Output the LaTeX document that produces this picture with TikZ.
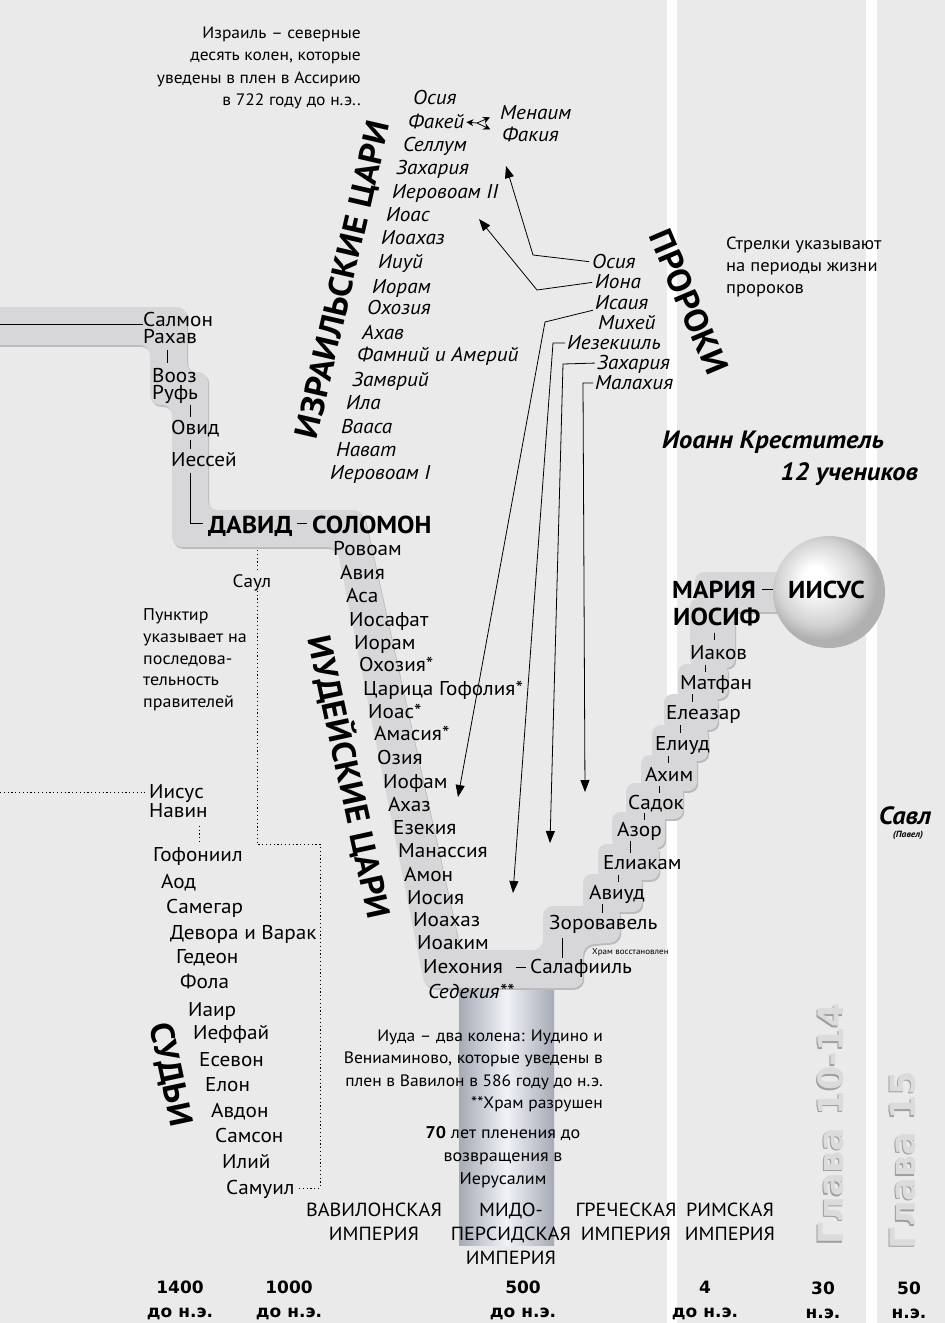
\documentclass[tikz,border=0pt]{standalone}
\usepackage{fontspec}
\setmainfont{PT Sans}[FakeStretch=1.06]
\newfontfamily\dvs{DejaVu Sans}
\usetikzlibrary{calc,arrows.meta}
\definecolor{bgc}{RGB}{234,234,234}
\definecolor{bandc}{RGB}{215,215,217}
\definecolor{shadc}{RGB}{186,186,190}
\definecolor{coledge}{RGB}{165,170,181}
\definecolor{colmid}{RGB}{240,242,246}
\pgfdeclareradialshading{jball}{\pgfpoint{-7bp}{7bp}}{color(0bp)=(white); color(5bp)=(white); color(19bp)=(gray!35); color(25bp)=(gray!62); color(50bp)=(gray!62)}
\newcommand\gtk[4]{\draw[gl] ($(#2.north west)!.5!(#2.north west |- #1.south)+(#3,-#4/2)$) -- ++(0,#4);}
\newcommand\bandpaths[1]{%
 \fill[#1,rounded corners=10pt] (-20,307) -- (187,307) -- (187,372) -- (208,372) -- (208,510) -- (363,510) -- (455,925) -- (460,950) -- (543,950) -- (543,906) -- (620,906) -- (620,942) -- (583,945) -- (583,988) -- (425,988) -- (337,547) -- (172,547) -- (172,405) -- (150,405) -- (150,345) -- (-20,345) -- cycle;
 \fill[#1,rounded corners=9pt] (695,572) rectangle (795,612);
 \fill[#1,rounded corners=9pt] (690,598) rectangle (735,668);
 \fill[#1,rounded corners=9pt] (678,664) rectangle (728,699);
 \fill[#1,rounded corners=9pt] (664,694) rectangle (718,730);
 \fill[#1,rounded corners=9pt] (652,725) rectangle (708,761);
 \fill[#1,rounded corners=9pt] (641,755) rectangle (697,791);
 \fill[#1,rounded corners=9pt] (626,783) rectangle (683,819);
 \fill[#1,rounded corners=9pt] (612,812) rectangle (665,848);
 \fill[#1,rounded corners=9pt] (598,844) rectangle (659,880);
 \fill[#1,rounded corners=9pt] (583,874) rectangle (642,912);
}
\begin{document}
\begin{tikzpicture}[x=1pt,y=-1pt,
  nm/.style={anchor=west,inner sep=0pt,text height=13pt,text depth=0pt,font=\fontsize{20}{22}\selectfont},
  itn/.style={nm,font=\fontsize{20}{22}\selectfont\itshape},
  hd/.style={anchor=west,inner sep=0pt,text height=17pt,text depth=0pt,font=\fontsize{24.5}{27}\selectfont\bfseries},
  hdr/.style={inner sep=0pt,font=\fontsize{33}{33}\selectfont\bfseries},
  note/.style={inner sep=0pt,font=\fontsize{16.5}{22.5}\selectfont},
  emp/.style={inner sep=0pt,align=center,font=\fontsize{19}{24}\selectfont},
  yr/.style={inner sep=0pt,align=center,font=\dvs\bfseries\fontsize{17}{24}\selectfont},
  gl/.style={line width=0.8pt},
  arr/.style={-{Triangle[length=12pt,width=9pt]}},
  smarr/.style={-{Stealth[length=7pt,width=7pt]}},
  dotln/.style={line width=0.9pt,dash pattern=on 1.2pt off 2.6pt},
  glava/.style={rotate=90,inner sep=0pt,font=\dvs\bfseries\fontsize{35}{35}\selectfont}
]
\useasboundingbox (0,0) rectangle (945,1323);
\fill[bgc] (0,0) rectangle (945,1323);
\fill[white] (667,0) rectangle (677,1323);
\fill[white] (866,0) rectangle (877,1323);
% column
\shade[left color=coledge,right color=coledge,middle color=colmid] (459,950) rectangle (554,1245);
% bands
\begin{scope}[shift={(1.2,1.8)}]\bandpaths{shadc}\end{scope}
\bandpaths{bandc}
% ball
\node[circle,minimum size=112pt,inner sep=0pt,shading=jball] (ball) at (829,592) {};

% notes
\node[note,anchor=east,align=right] (nisr) at (361,68) {Израиль – северные\\десять колен, которые\\уведены в плен в Ассирию\\в 722 году до н.э..};
\node[note,anchor=west,align=left,font=\fontsize{17.5}{22}\selectfont] (narr) at (726,267) {Стрелки указывают\\на периоды жизни\\пророков};
\node[note,anchor=west,align=left,font=\fontsize{17}{21.7}\selectfont] (npun) at (143,660) {Пунктир\\указывает на\\последова-\\тельность\\правителей};
\node[note,anchor=east,align=right] (njud) at (603,1071) {Иуда – два колена: Иудино и\\Вениаминово, которые уведены в\\плен в Вавилон в 586 году до н.э.\\**Храм разрушен};
\node[note,align=center,font=\fontsize{17}{23}\selectfont] (n70) at (503,1157) {\textbf{70} лет пленения до\\возвращения в\\Иерусалим};
\node[inner sep=0pt,anchor=west,font=\fontsize{8.5}{9}\selectfont] (hram) at (592,952) {Храм восстановлен};

% headings rotated
\node[hdr,rotate=77] (hisr) at (344,280) {ИЗРАИЛЬСКИЕ ЦАРИ};
\node[hdr,rotate=-67] (hpro) at (689,302) {ПРОРОКИ};
\node[hdr,rotate=-77.7] (hjud) at (350,777) {ИУДЕЙСКИЕ ЦАРИ};
\node[hdr,rotate=-78] (hsud) at (170,1075) {СУДЬИ};

% Salmon line
\node[nm] (salmon) at (143,320) {Салмон};
\node[nm] (rahav) at (143,337) {Рахав};
\node[nm] (vooz) at (152,376) {Вооз};
\node[nm] (ruf) at (152,393) {Руфь};
\node[nm] (ovid) at (171,428) {Овид};
\node[nm] (iessei) at (171,460) {Иессей};
\node[hd] (david) at (208,525) {ДАВИД};
\node[hd] (solomon) at (312,525) {СОЛОМОН};

\coordinate (lft) at (0,324);
\draw[gl] (lft) -- (salmon.west |- lft);
\gtk{rahav}{vooz}{15}{13}
\gtk{ruf}{ovid}{19}{12}
\gtk{ovid}{iessei}{19}{9}
\draw[gl] ($(iessei.south west)+(19,6)$) |- ($(david.west)+(-5,-2)$);
\draw[gl] ($(solomon.west)+(-15,-2)$) -- ($(solomon.west)+(-5,-2)$);

% Judah kings
\node[nm] (rovoam) at (333,549) {Ровоам};
\node[nm] (avia) at (340,573) {Авия};
\node[nm] (asa) at (346,596) {Аса};
\node[nm] (iosafat) at (349,620) {Иосафат};
\node[nm] (ioramj) at (354,643) {Иорам};
\node[nm] (ohoziaj) at (359,665) {Охозия*};
\node[nm] (gofolia) at (363,689) {Царица Гофолия*};
\node[nm] (ioasj) at (368,712) {Иоас*};
\node[nm] (amasia) at (374,734) {Амасия*};
\node[nm] (ozia) at (377,758) {Озия};
\node[nm] (iofam) at (383,782) {Иофам};
\node[nm] (ahaz) at (388,805) {Ахаз};
\node[nm] (ezekia) at (393,828) {Езекия};
\node[nm] (manassia) at (398,851) {Манассия};
\node[nm] (amon) at (404,875) {Амон};
\node[nm] (iosia) at (407,898) {Иосия};
\node[nm] (ioahazj) at (413,920) {Иоахаз};
\node[nm] (ioakim) at (417,943) {Иоаким};
\node[nm] (iehonia) at (423,967) {Иехония};
\node[itn] (sedekia) at (428,992) {Седекия**};

% Israel kings
\node[itn] (osiai) at (413,98) {Осия};
\node[itn] (fakey) at (408,122) {Факей};
\node[itn] (menaim) at (500,113) {Менаим};
\node[itn] (fakia) at (502,135) {Факия};
\node[itn] (sellum) at (403,145) {Селлум};
\node[itn] (zahi) at (396,168) {Захария};
\node[itn] (ier2) at (392,192) {Иеровоам II};
\node[itn] (ioasi) at (386,215) {Иоас};
\node[itn] (ioahazi) at (381,238) {Иоахаз};
\node[itn] (iiui) at (378,262) {Ииуй};
\node[itn] (iorami) at (372,287) {Иорам};
\node[itn] (ohoziai) at (367,308) {Охозия};
\node[itn] (ahav) at (362,333) {Ахав};
\node[itn] (famni) at (357,355) {Фамний и Америй};
\node[itn] (zamvri) at (352,380) {Замврий};
\node[itn] (ila) at (346,403) {Ила};
\node[itn] (vaasa) at (341,427) {Вааса};
\node[itn] (navat) at (336,450) {Нават};
\node[itn] (ier1) at (330,473) {Иеровоам I};

\coordinate (fv) at (477,123);
\draw[gl,smarr,shorten >=2pt] (fv) -- (fakey.east);
\draw[gl,smarr,shorten >=11pt] (fv) -- (menaim.west);
\draw[gl,smarr,shorten >=13pt] (fv) -- (fakia.west);

% prophets
\node[itn] (posia) at (592,262) {Осия};
\node[itn] (piona) at (595,282) {Иона};
\node[itn] (pisaia) at (595,303) {Исаия};
\node[itn] (pmihei) at (598,323) {Михей};
\node[itn] (piezek) at (567,343) {Иезекииль};
\node[itn] (pzah) at (597,363) {Захария};
\node[itn] (pmal) at (595,383) {Малахия};

\coordinate (cos) at (533,255); \coordinate (tos) at (506,166);
\coordinate (cio) at (537,290); \coordinate (tio) at (479,219);
\coordinate (cis) at (545,322); \coordinate (tis) at (458,797);
\coordinate (cie) at (553,343); \coordinate (tie) at (513,893);
\coordinate (cza) at (563,364); \coordinate (tza) at (550,843);
\coordinate (cma) at (583,383); \coordinate (tma) at (585,792);
\draw[gl,arr,shorten <=3pt] (posia.west) -- (cos) -- (tos);
\draw[gl,arr,shorten <=3pt] (piona.west) -- (cio) -- (tio);
\draw[gl,arr,shorten <=2pt] (pisaia.south west) -- (cis) -- (tis);
\draw[gl,arr,shorten <=2pt] (piezek.west) -- (cie) -- (tie);
\draw[gl,arr,shorten <=2pt] (pzah.west) -- (cza) -- (tza);
\draw[gl,arr,shorten <=2pt] (pmal.west) -- (cma) -- (tma);

% John, disciples, Saul
\node[inner sep=0pt,anchor=west,font=\fontsize{25}{26}\selectfont\bfseries\itshape] (ioann) at (662,442) {Иоанн Креститель};
\node[inner sep=0pt,anchor=east,font=\fontsize{25}{26}\selectfont\bfseries\itshape] (uch) at (918,474) {12 учеников};
\node[inner sep=0pt,font=\fontsize{25}{26}\selectfont\bfseries\itshape] (savl) at (905,816) {Савл};
\node[inner sep=0pt,font=\fontsize{9}{10}\selectfont\bfseries\itshape] (pavel) at (908,835) {(Павел)};

% Jesus line
\node[hd] (maria) at (672,590) {МАРИЯ};
\node[hd] (iosif) at (673,617) {ИОСИФ};
\node[hd] (iisus) at (788,590) {ИИСУС};
\draw[gl] ($(iisus.west)+(-26,-1)$) -- ($(iisus.west)+(-15,-1)$);
\node[nm] (iakov) at (690,653) {Иаков};
\node[nm] (matfan) at (680,683) {Матфан};
\node[nm] (eleazar) at (666,713) {Елеазар};
\node[nm] (eliud) at (655,744) {Елиуд};
\node[nm] (ahim) at (645,775) {Ахим};
\node[nm] (sadok) at (628,803) {Садок};
\node[nm] (azor) at (617,830) {Азор};
\node[nm] (eliakam) at (603,863) {Елиакам};
\node[nm] (aviud) at (589,893) {Авиуд};
\node[nm] (zorov) at (549,923) {Зоровавель};
\node[nm] (salaf) at (530,967) {Салафииль};
\gtk{iosif}{iakov}{24}{7}
\gtk{iakov}{matfan}{25}{7}
\gtk{matfan}{eleazar}{26}{8}
\gtk{eleazar}{eliud}{25}{8}
\gtk{eliud}{ahim}{23}{7}
\gtk{ahim}{sadok}{31}{7}
\gtk{sadok}{azor}{27}{7}
\gtk{azor}{eliakam}{27}{12}
\gtk{eliakam}{aviud}{29}{7}
\gtk{aviud}{zorov}{53}{9}
\draw[gl] ($(zorov.south west)+(13,8)$) -- ($(zorov.south west |- salaf.north)+(13,-2)$);
\draw[gl] ($(salaf.west)+(-14,0)$) -- ($(salaf.west)+(-4,0)$);

% judges
\node[nm] (iisusn) at (149,792) {Иисус};
\node[nm] (navin) at (149,811) {Навин};
\node[nm] (gofon) at (153,855) {Гофониил};
\node[nm] (aod) at (161,882) {Аод};
\node[nm] (samegar) at (166,907) {Самегар};
\node[nm] (devora) at (170,933) {Девора и Варак};
\node[nm] (gedeon) at (176,957) {Гедеон};
\node[nm] (fola) at (180,982) {Фола};
\node[nm] (iair) at (188,1010) {Иаир};
\node[nm] (ieffai) at (193,1033) {Иеффай};
\node[nm] (esevon) at (199,1060) {Есевон};
\node[nm] (elon) at (205,1085) {Елон};
\node[nm] (avdon) at (211,1111) {Авдон};
\node[nm] (samson) at (215,1136) {Самсон};
\node[nm] (ilii) at (222,1162) {Илий};
\node[nm] (samuil) at (226,1188) {Самуил};
\node[inner sep=0pt,text height=13pt,text depth=0pt,font=\fontsize{18}{20}\selectfont] (saul) at (252,581) {Саул};

\coordinate (dl) at (0,792);
\draw[dotln,shorten >=4pt] (dl) -- (iisusn.west);
\draw[dotln] ($(navin.south east)+(-8,8)$) -- ($(navin.south east)+(-8,26)$);
\coordinate (s0) at (257,550);
\coordinate (s1) at (257,844);
\coordinate (s2) at (320,844);
\coordinate (s3) at (320,1188);
\draw[dotln,shorten >=3pt] (s0) -- (saul.north -| s0);
\draw[dotln,shorten <=3pt] (saul.south -| s1) -- (s1) -- (s2) -- (s3) -- ([xshift=4pt]samuil.east);

% empires
\node[emp] (ebab) at (374,1222) {ВАВИЛОНСКАЯ\\ИМПЕРИЯ};
\node[emp] (emid) at (511,1234) {МИДО-\\ПЕРСИДСКАЯ\\ИМПЕРИЯ};
\node[emp] (egre) at (626,1222) {ГРЕЧЕСКАЯ\\ИМПЕРИЯ};
\node[emp] (erim) at (730,1222) {РИМСКАЯ\\ИМПЕРИЯ};

% years
\node[yr] (y1400) at (180,1300) {1400\\до н.э.};
\node[yr] (y1000) at (289,1300) {1000\\до н.э.};
\node[yr] (y500) at (523,1300) {500\\до н.э.};
\node[yr] (y4) at (705,1300) {4\\до н.э.};
\node[yr] (y30) at (823,1300) {30\\н.э.};
\node[yr] (y50) at (909,1300) {50\\н.э.};

% chapters
\node[glava,text=gray!75] (g1s) at (829.5,1125.5) {Глава 10-14};
\node[glava,text=gray!28] (g1) at (831,1124) {Глава 10-14};
\node[glava,text=gray!75] (g2s) at (901.5,1161.5) {Глава 15};
\node[glava,text=gray!28] (g2) at (903,1160) {Глава 15};
\end{tikzpicture}
\end{document}
